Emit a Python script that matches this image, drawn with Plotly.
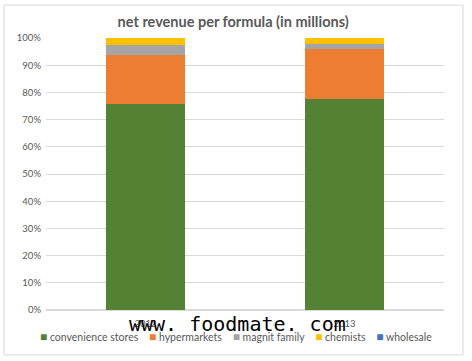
import plotly.graph_objects as go

years = ["2012", "2013"]
series_names = ["convenience stores", "hypermarkets", "magnit family", "chemists", "wholesale"]
convenience = [0.757, 0.777]
hypermarkets = [0.181, 0.183]
magnit_family = [0.035, 0.018]
chemists = [0.027, 0.022]
wholesale = [0.0, 0.0]
colors = ["#548235", "#ED7D31", "#A5A5A5", "#FFC000", "#4472C4"]

values = [convenience, hypermarkets, magnit_family, chemists, wholesale]

fig = go.Figure()
for name, vals, c in zip(series_names, values, colors):
    fig.add_trace(go.Bar(x=years, y=vals, name=name, marker=dict(color=c, line=dict(width=0))))

txt = "#595959"
legend_text = "    ".join(
    f'<span style="color:{c};font-size:12px">■</span> {n}' for n, c in zip(series_names, colors)
)

fig.update_layout(
    width=472, height=361,
    barmode="stack", bargap=0.6,
    paper_bgcolor="white", plot_bgcolor="white",
    margin=dict(l=46, r=28, t=38, b=51, autoexpand=False),
    font=dict(family="Lato, Open Sans, sans-serif", size=10, color=txt),
    title=dict(text="<b>net revenue per formula (in millions)</b>", x=0.494, xanchor="center",
               y=0.94, yanchor="middle", font=dict(size=14.5, color=txt)),
    xaxis=dict(showgrid=False, showline=False, ticks="", tickfont=dict(size=9.5, color=txt),
               ticklabelstandoff=6, automargin=False),
    yaxis=dict(range=[0, 1], dtick=0.1, tickformat=".0%", showgrid=True, gridcolor="#D9D9D9",
               gridwidth=1, zeroline=True, zerolinecolor="#D9D9D9", showline=False, ticks="",
               ticklabelstandoff=4, tickfont=dict(size=9.5, color=txt), automargin=False),
    showlegend=False,
    shapes=[dict(type="rect", xref="paper", yref="paper", x0=-0.1055, x1=1.0477, y0=-0.165, y1=1.121,
                 line=dict(color="#D9D9D9", width=1), layer="below")],
    annotations=[
        dict(text="www. foodmate. com", xref="paper", yref="paper", x=0.48, y=-0.05,
             xanchor="center", yanchor="middle", showarrow=False,
             font=dict(family="DejaVu Sans Mono, monospace", size=20, color="black")),
        dict(text=legend_text, xref="paper", yref="paper", x=0.477, y=-0.099,
             xanchor="center", yanchor="middle", showarrow=False,
             font=dict(size=10.5, color=txt)),
    ],
)
fig.write_html("out.html")
